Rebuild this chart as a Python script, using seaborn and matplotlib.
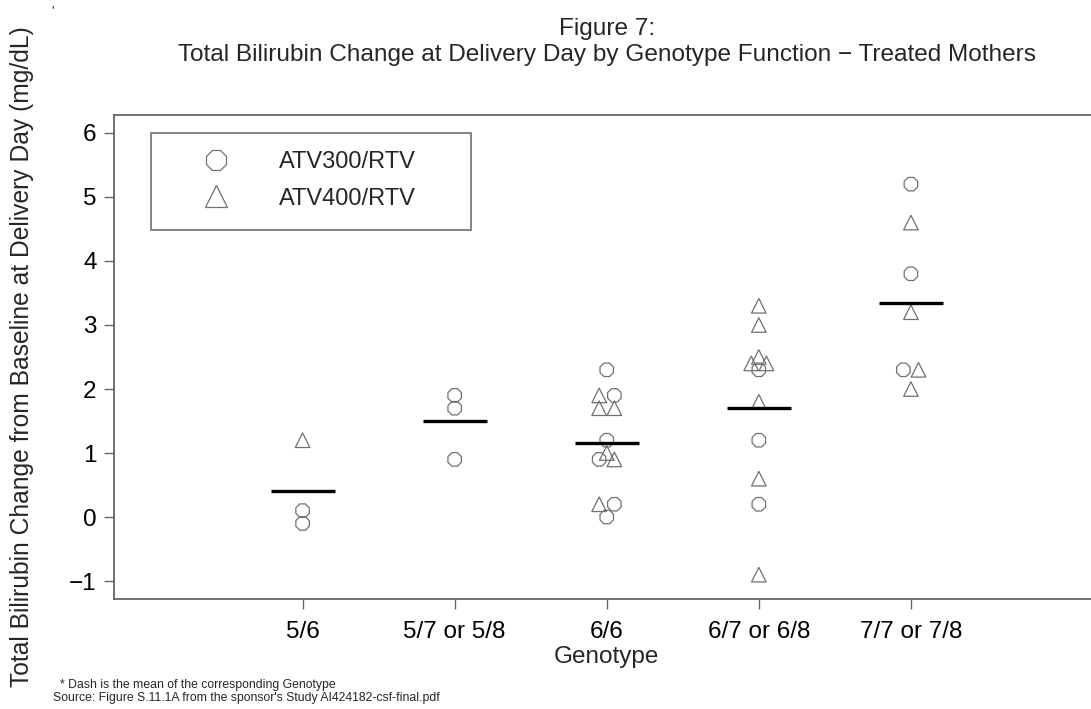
import numpy as np
import pandas as pd
import matplotlib
matplotlib.use("Agg")
import matplotlib.pyplot as plt
import seaborn as sns
from matplotlib.lines import Line2D
from matplotlib.patches import Rectangle

# Genotype function groups on the x axis
genotypes = ["5/6", "5/7 or 5/8", "6/6", "6/7 or 6/8", "7/7 or 7/8"]
dose_labels = {"300": "ATV300/RTV", "400": "ATV400/RTV"}

# one entry per treated mother, in listing order
subject_genotype = (
    ["5/6"] * 3
    + ["5/7 or 5/8"] * 3
    + ["6/6"] * 12
    + ["6/7 or 6/8"] * 11
    + ["7/7 or 7/8"] * 7
)
subject_dose = (
    ["400", "300", "300"]
    + ["300", "300", "300"]
    + ["300", "400", "300", "400", "400", "300", "400", "300", "400", "400", "300", "300"]
    + ["400", "400", "400", "400", "400", "300", "400", "300", "400", "300", "400"]
    + ["300", "400", "300", "400", "300", "400", "400"]
)
bilirubin_change = (
    [1.2, 0.1, -0.1]
    + [1.9, 1.7, 0.9]
    + [2.3, 1.9, 1.9, 1.7, 1.7, 1.2, 1.0, 0.9, 0.9, 0.2, 0.2, 0.0]
    + [3.3, 3.0, 2.5, 2.4, 2.4, 2.3, 1.8, 1.2, 0.6, 0.2, -0.9]
    + [5.2, 4.6, 3.8, 3.2, 2.3, 2.3, 2.0]
)

y_ticks = [-1, 0, 1, 2, 3, 4, 5, 6]

df = pd.DataFrame({
    "genotype": subject_genotype,
    "dose": [dose_labels[d] for d in subject_dose],
    "change": bilirubin_change,
})
df["pos"] = df["genotype"].map({g: i + 1 for i, g in enumerate(genotypes)})

# spread tied values side by side around the genotype position
tie_rank = df.groupby(["genotype", "change"]).cumcount()
tie_size = df.groupby(["genotype", "change"])["change"].transform("size")
df["x"] = df["pos"] + (tie_rank - (tie_size - 1) / 2) * 0.1

means = df.groupby("genotype")["change"].mean().reindex(genotypes)

sns.set_theme(style="white")
plt.rcParams["font.family"] = ["Liberation Sans", "DejaVu Sans"]

W, H = 1091, 709
fig = plt.figure(figsize=(W / 100, H / 100), dpi=100)
ax = fig.add_axes([114 / W, (H - 599) / H, 985.5 / W, 484 / H])

grey = "#707070"
spine_col = "#666666"

sns.scatterplot(
    data=df, x="x", y="change", style="dose",
    markers={"ATV300/RTV": "8", "ATV400/RTV": "^"},
    s=110, ax=ax, legend=False, zorder=3,
)
for coll in ax.collections:
    coll.set_facecolor("none")
    coll.set_edgecolor(grey)
    coll.set_linewidth(0.9)

# dash at each genotype mean
for i, g in enumerate(genotypes):
    ax.hlines(means[g], i + 1 - 0.21, i + 1 + 0.21, color="black", lw=2.4, zorder=4)

ax.set_xlim(-0.24, 6.24)
ax.set_ylim(-1.28, 6.28)
ax.set_xticks(range(1, len(genotypes) + 1))
ax.set_xticklabels(genotypes)
ax.set_yticks(y_ticks)
ax.set_yticklabels([f"{v}".replace("-", "\u2212") for v in y_ticks])

for side in ["left", "bottom", "top", "right"]:
    ax.spines[side].set_color(spine_col)
    ax.spines[side].set_linewidth(1.3)
ax.tick_params(axis="both", direction="out", length=7.5, width=1.0,
               color=spine_col, labelsize=17.5, labelcolor="black", pad=5,
               left=True, bottom=True)
ax.tick_params(axis="x", pad=8)

ax.set_xlabel("Genotype", fontsize=17.5, va="center")
ax.xaxis.set_label_coords(0.5, -0.12)
ax.set_ylabel("Total Bilirubin Change from Baseline at Delivery Day (mg/dL)",
              fontsize=17.7, va="center")
ax.yaxis.set_label_coords(-0.0934, 0.5)

ax.set_title("Figure 7:\nTotal Bilirubin Change at Delivery Day by Genotype Function \u2212 Treated Mothers",
             fontsize=17.6, linespacing=1.25, pad=39)

# legend box
ax.add_patch(Rectangle((0.0, 4.49), 2.11, 1.51, transform=ax.transData,
                       fill=False, edgecolor=grey, lw=1.2, zorder=5))
handles = [
    Line2D([], [], ls="none", marker="8", markersize=15.5, markerfacecolor="none",
           markeredgecolor=grey, markeredgewidth=0.9),
    Line2D([], [], ls="none", marker="^", markersize=15.5, markerfacecolor="none",
           markeredgecolor=grey, markeredgewidth=0.9),
]
ax.legend(handles, list(dose_labels.values()), loc="upper left",
          bbox_to_anchor=(192.5 / W, 1 - 151 / H), bbox_transform=fig.transFigure,
          frameon=False, fontsize=17, handlelength=2.0, handletextpad=1.67,
          borderpad=0, borderaxespad=0, labelspacing=0.62)

fig.text(53 / W, 1 - 11 / H, "'", fontsize=9, ha="center", va="center")
fig.text(60 / W, 1 - 685 / H, "* Dash is the mean of the corresponding Genotype",
         fontsize=8.8, ha="left", va="center")
fig.text(53 / W, 1 - 698 / H,
         "Source: Figure S.11.1A from the sponsor's Study AI424182-csf-final.pdf",
         fontsize=8.8, ha="left", va="center")

fig.savefig("out.png", dpi=100)
